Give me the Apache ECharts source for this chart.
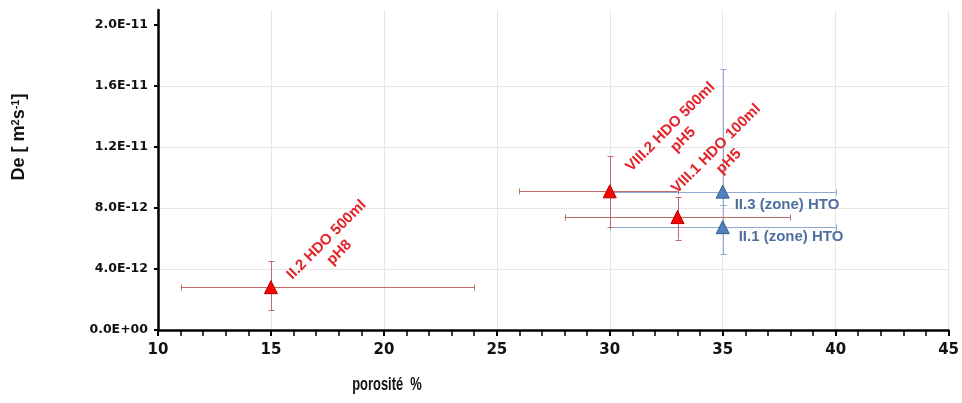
<!DOCTYPE html>
<html>
<head>
<meta charset="utf-8">
<script src="https://cdn.jsdelivr.net/npm/echarts@6/dist/echarts.min.js"></script>
<style>
html,body{margin:0;padding:0;background:#fff;}
#chart{width:962px;height:403px;}
</style>
</head>
<body>
<div id="chart"></div>
<script>
// ---- data ----
var redLabels = ['II.2 HDO 500ml\npH8', 'VIII.2 HDO 500ml\npH5', 'VIII.1 HDO 100ml\npH5'];
var redX      = [15, 30, 33];
var redY      = [2.81e-12, 9.10e-12, 7.41e-12];
var redXLow   = [11, 26, 28];
var redXHigh  = [24, 33, 38];
var redYLow   = [1.31e-12, 6.75e-12, 5.93e-12];
var redYHigh  = [4.53e-12, 1.142e-11, 8.71e-12];

var blueLabels = ['II.3 (zone) HTO', 'II.1 (zone) HTO'];
var blueX      = [35, 35];
var blueY      = [9.08e-12, 6.75e-12];
var blueXLow   = [30, 30];
var blueXHigh  = [40, 40];
var blueYLow   = [8.2e-12, 4.97e-12];
var blueYHigh  = [1.71e-11, 8.2e-12];

var xTickValues = [10, 15, 20, 25, 30, 35, 40, 45];
var yTickValues = [0, 4e-12, 8e-12, 1.2e-11, 1.6e-11, 2.0e-11];

// ---- style (label placement offsets in pixels) ----
var redLabelOffsets  = [[62, -41], [67, -58], [45, -62]];
var blueLabelOffsets = [[12, 13], [16, 10]];

function rows(xs, ys, xl, xh, yl, yh) {
  return xs.map(function (x, i) { return [x, ys[i], xl[i], xh[i], yl[i], yh[i]]; });
}
var redRows = rows(redX, redY, redXLow, redXHigh, redYLow, redYHigh);
var blueRows = rows(blueX, blueY, blueXLow, blueXHigh, blueYLow, blueYHigh);

function sci(v) {
  if (Math.abs(v) < 1e-30) return '0.0E+00';
  var e = Math.floor(Math.log10(Math.abs(v)) + 1e-9);
  var m = v / Math.pow(10, e);
  var ms = m.toFixed(1);
  if (ms === '10.0') { e += 1; ms = '1.0'; }
  return ms + 'E' + (e < 0 ? '-' : '+') + String(Math.abs(e)).padStart(2, '0');
}

function errRenderer(color) {
  return function (params, api) {
    var x = api.value(0), y = api.value(1);
    var xl = api.value(2), xh = api.value(3), yl = api.value(4), yh = api.value(5);
    var pL = api.coord([xl, y]), pR = api.coord([xh, y]);
    var pT = api.coord([x, yh]), pB = api.coord([x, yl]);
    function r(v) { return Math.round(v) + 0.5; }
    var c = 3;
    var st = { stroke: color, lineWidth: 1 };
    var hy = r(pL[1]), vx = r(pT[0]);
    return {
      type: 'group',
      children: [
        { type: 'line', shape: { x1: pL[0], y1: hy, x2: pR[0], y2: hy }, style: st },
        { type: 'line', shape: { x1: r(pL[0]), y1: hy - c, x2: r(pL[0]), y2: hy + c }, style: st },
        { type: 'line', shape: { x1: r(pR[0]), y1: hy - c, x2: r(pR[0]), y2: hy + c }, style: st },
        { type: 'line', shape: { x1: vx, y1: pT[1], x2: vx, y2: pB[1] }, style: st },
        { type: 'line', shape: { x1: vx - c, y1: r(pT[1]), x2: vx + c, y2: r(pT[1]) }, style: st },
        { type: 'line', shape: { x1: vx - c, y1: r(pB[1]), x2: vx + c, y2: r(pB[1]) }, style: st }
      ]
    };
  };
}

function labelRenderer(texts, offsets, opts) {
  return function (params, api) {
    var p = api.coord([api.value(0), api.value(1)]);
    var off = offsets[params.dataIndex];
    return {
      type: 'text',
      x: p[0] + off[0],
      y: p[1] + off[1],
      rotation: opts.rotation,
      style: {
        text: texts[params.dataIndex],
        textAlign: opts.align,
        textVerticalAlign: 'middle',
        fontFamily: "'Liberation Sans', Arial, sans-serif",
        fontWeight: 'bold',
        fontSize: opts.size,
        lineHeight: opts.lineHeight,
        fill: opts.color
      }
    };
  };
}

var chart = echarts.init(document.getElementById('chart'), null, { renderer: 'canvas' });
chart.setOption({
  animation: false,
  backgroundColor: '#ffffff',
  grid: { left: 158, right: 11, top: 10, bottom: 73, containLabel: false },
  xAxis: {
    type: 'value',
    min: 10, max: 45, interval: 5,
    axisLine: { show: true, onZero: false, lineStyle: { color: '#000', width: 2.5 } },
    axisTick: { show: true, length: 6, lineStyle: { color: '#000', width: 2 } },
    minorTick: { show: true, splitNumber: 5, length: 6, lineStyle: { color: '#000', width: 1.5 } },
    splitLine: { show: true, lineStyle: { color: '#e6e6e6', width: 1 } },
    axisLabel: {
      margin: 13, color: '#111', fontFamily: 'DejaVu Sans', fontWeight: 'bold', fontSize: 15,
      customValues: xTickValues
    }
  },
  yAxis: {
    type: 'value',
    min: 0, max: 2.1e-11, interval: 4e-12,
    axisLine: { show: true, onZero: false, lineStyle: { color: '#000', width: 2.5 } },
    axisTick: { show: true, length: 4, lineStyle: { color: '#000', width: 2 }, customValues: yTickValues },
    splitLine: { show: true, showMaxLine: false, lineStyle: { color: '#e6e6e6', width: 1 } },
    axisLabel: {
      margin: 10, color: '#111', fontFamily: 'DejaVu Sans', fontWeight: 'bold', fontSize: 12.5,
      customValues: yTickValues,
      formatter: function (v) { return sci(v); }
    }
  },
  graphic: [
    {
      type: 'text', x: 19, y: 137, rotation: Math.PI / 2,
      style: {
        text: 'De [ m{sup|2}s{sup|-1}]',
        textAlign: 'center', textVerticalAlign: 'middle',
        fontFamily: "'Liberation Sans', Arial, sans-serif", fontWeight: 'bold', fontSize: 18, fill: '#111',
        rich: {
          sup: { fontFamily: "'Liberation Sans', Arial, sans-serif", fontWeight: 'bold', fontSize: 11, fill: '#111', verticalAlign: 'top', padding: [0, 0, 6, 0] }
        }
      }
    },
    {
      type: 'text', x: 387, y: 385, scaleX: 0.68,
      style: {
        text: 'porosité  %',
        textAlign: 'center', textVerticalAlign: 'middle',
        fontFamily: "'Liberation Sans', Arial, sans-serif", fontWeight: 'bold', fontSize: 19, fill: '#111'
      }
    }
  ],
  series: [
    {
      type: 'custom', name: 'errBlue', z: 2,
      renderItem: errRenderer('#8eaad3'),
      encode: { x: 0, y: 1 },
      data: blueRows, silent: true
    },
    {
      type: 'custom', name: 'errRed', z: 3,
      renderItem: errRenderer('#c06a6a'),
      encode: { x: 0, y: 1 },
      data: redRows, silent: true
    },
    {
      type: 'scatter', name: 'HTO', z: 5,
      symbol: 'triangle', symbolSize: 13,
      itemStyle: { color: '#4f81bd', borderColor: '#385d8a', borderWidth: 1, opacity: 1 },
      data: blueX.map(function (x, i) { return [x, blueY[i]]; })
    },
    {
      type: 'scatter', name: 'HDO', z: 6,
      symbol: 'triangle', symbolSize: 13,
      itemStyle: { color: '#ff0000', borderColor: '#b00000', borderWidth: 1, opacity: 1 },
      data: redX.map(function (x, i) { return [x, redY[i]]; })
    },
    {
      type: 'custom', name: 'labelsRed', z: 8,
      renderItem: labelRenderer(redLabels, redLabelOffsets, { rotation: Math.PI / 4, align: 'center', size: 15, lineHeight: 18, color: '#e3232a' }),
      encode: { x: 0, y: 1 },
      data: redX.map(function (x, i) { return [x, redY[i]]; }), silent: true
    },
    {
      type: 'custom', name: 'labelsBlue', z: 8,
      renderItem: labelRenderer(blueLabels, blueLabelOffsets, { rotation: 0, align: 'left', size: 15, lineHeight: 18, color: '#4f6f9f' }),
      encode: { x: 0, y: 1 },
      data: blueX.map(function (x, i) { return [x, blueY[i]]; }), silent: true
    }
  ]
});
</script>
</body>
</html>
